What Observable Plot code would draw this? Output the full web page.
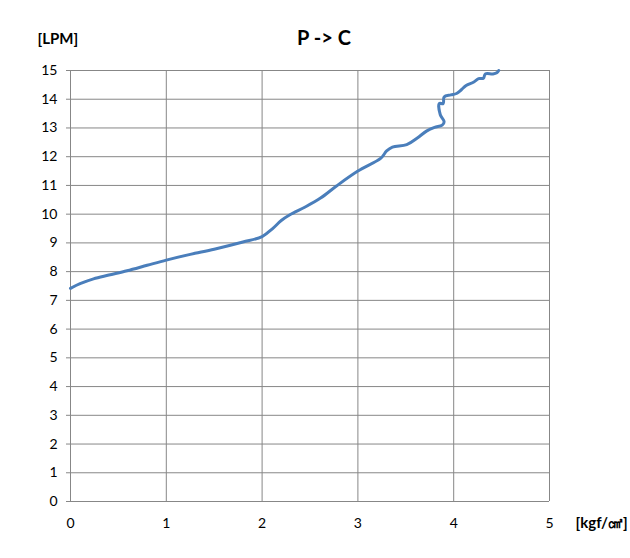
<!DOCTYPE html>
<html>
<head>
<meta charset="utf-8">
<script src="https://cdn.jsdelivr.net/npm/d3@7"></script>
<script src="https://cdn.jsdelivr.net/npm/@observablehq/plot@0.6"></script>
<style>
  html, body { margin: 0; padding: 0; background: #fff; }
</style>
</head>
<body>
<div id="chart"></div>
<script>
const title = "P -> C";
const yUnit = "[LPM]";
const xUnit = "[kgf/㎠]";
const xTicks = [0, 1, 2, 3, 4, 5];
const yTicks = [0, 1, 2, 3, 4, 5, 6, 7, 8, 9, 10, 11, 12, 13, 14, 15];

// pressure (kgf/cm2) and flow (LPM), in drawing order
const pressure = [0, 0.1, 0.24, 0.4, 0.59, 0.8, 1.0, 1.25, 1.5, 1.8, 2.0, 2.11, 2.2, 2.29, 2.45, 2.61, 2.78, 3.0, 3.24, 3.3, 3.36, 3.51, 3.62, 3.72, 3.8, 3.88, 3.9, 3.86, 3.85, 3.89, 3.9, 3.97, 4.03, 4.08, 4.13, 4.21, 4.26, 4.31, 4.33, 4.41, 4.45, 4.47];
const flow =     [7.42, 7.58, 7.75, 7.88, 8.03, 8.22, 8.4, 8.6, 8.78, 9.03, 9.22, 9.5, 9.78, 9.98, 10.25, 10.56, 10.99, 11.5, 11.95, 12.2, 12.33, 12.42, 12.65, 12.9, 13.02, 13.1, 13.22, 13.46, 13.85, 13.85, 14.08, 14.15, 14.2, 14.33, 14.48, 14.6, 14.72, 14.73, 14.88, 14.88, 14.92, 15.0];

const data = pressure.map((p, i) => ({p, f: flow[i], i}));

const chart = Plot.plot({
  width: 630,
  height: 558,
  marginTop: 70,
  marginLeft: 70,
  marginRight: 81,
  marginBottom: 57,
  style: {fontFamily: "Lato, 'Open Sans', sans-serif", fontSize: "14px", color: "#000", background: "#fff"},
  x: {domain: [0, 5], label: null},
  y: {domain: [0, 15], label: null},
  marks: [
    Plot.gridX(xTicks, {stroke: "#878787", strokeOpacity: 1, strokeWidth: 1}),
    Plot.gridY(yTicks, {stroke: "#878787", strokeOpacity: 1, strokeWidth: 1}),
    Plot.axisX(xTicks, {tickSize: 0, tickPadding: 17, fontSize: 14, tickFormat: d => d}),
    Plot.axisY(yTicks, {tickSize: 4, tickPadding: 9, fontSize: 14, stroke: "#878787", tickFormat: d => d}),
    Plot.ruleX([0], {stroke: "#878787"}),
    Plot.ruleY([0], {stroke: "#878787"}),
    Plot.line(data, {x: "p", y: "f", sort: "i", stroke: "#4A7EBB", strokeWidth: 3, curve: "catmull-rom"}),
    Plot.text([title], {frameAnchor: "top", lineAnchor: "middle", dx: 14, dy: -32, fontSize: 20, fontWeight: "bold", fill: "#000"}),
    Plot.text([yUnit], {frameAnchor: "top-left", lineAnchor: "middle", dx: -33, dy: -31, textAnchor: "start", fontSize: 15, fontWeight: "bold", fill: "#000"}),
    Plot.text([xUnit], {frameAnchor: "bottom-right", lineAnchor: "middle", dx: 26, dy: 22, textAnchor: "start", fontSize: 15, fontWeight: "bold", fill: "#000"})
  ]
});
document.getElementById("chart").appendChild(chart);
</script>
</body>
</html>
